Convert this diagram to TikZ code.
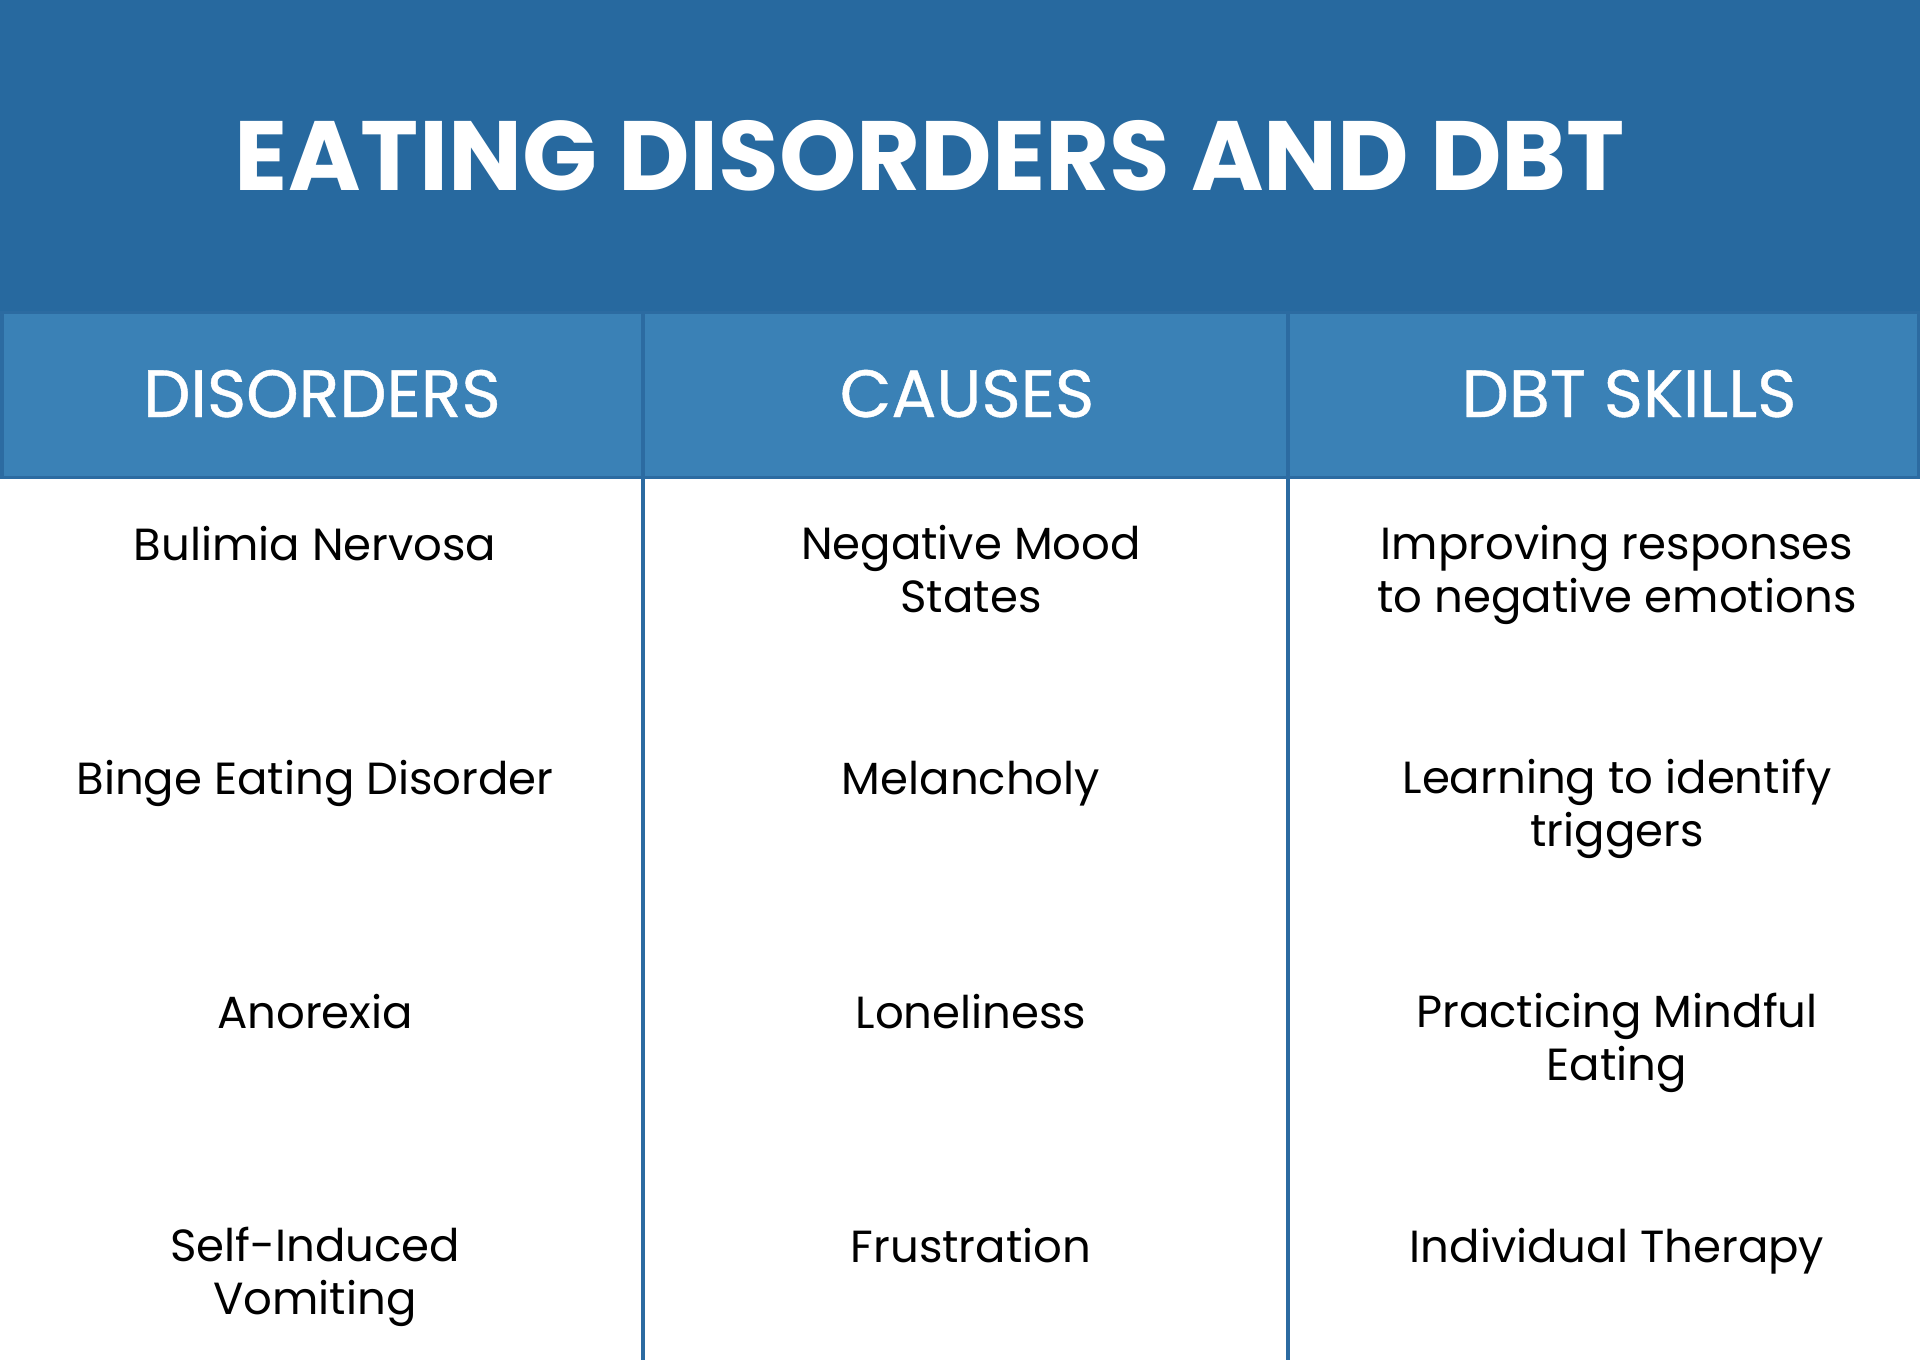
\documentclass[tikz,border=0pt]{standalone}
\usepackage{fontspec}
\setmainfont{Poppins}
\newfontfamily\headfont{Poppins}[FakeBold=0.6]
\usetikzlibrary{positioning}
\definecolor{bannerblue}{HTML}{27699F}
\definecolor{headblue}{HTML}{3A81B6}
\definecolor{lineblue}{HTML}{2C6BA1}

\begin{document}
\begin{tikzpicture}[x=0.01cm, y=-0.01cm,
    head/.style={anchor=base, text=white, font=\headfont\fontsize{19}{21}\selectfont},
    cell/.style={anchor=base, align=center, inner sep=0pt, font=\fontsize{12.8}{14.9}\selectfont}]
  \useasboundingbox (0,0) rectangle (1920,1363);

  % banner and header band
  \fill[bannerblue] (0,0) rectangle (1920,312);
  \fill[headblue] (0,312) rectangle (1920,477);
  \draw[lineblue, line width=0.03cm] (2,312) rectangle (1918,477);
  \draw[lineblue, line width=0.045cm] (643,312) -- (643,1360);
  \draw[lineblue, line width=0.045cm] (1288,312) -- (1288,1360);

  \node[anchor=base, text=white, font=\fontsize{28}{30}\selectfont\bfseries] at (930,190) (title) {EATING DISORDERS AND DBT};

  \node[head] at (322,417) (hdis) {DISORDERS};
  \node[head] at (967,417) (hcau) {CAUSES};
  \node[head] at (1629,417) (hski) {DBT SKILLS};

  % two-line cells sit on the baseline of their last line
  \node[cell] at (315,560) (d1) {Bulimia Nervosa};
  \node[cell] at (315,794) (d2) {Binge Eating Disorder};
  \node[cell] at (315,1028) (d3) {Anorexia};
  \node[cell] at (315,1314) (d4) {Self-Induced\\Vomiting};

  \node[cell] at (971,612) (c1) {Negative Mood\\States};
  \node[cell] at (971,794) (c2) {Melancholy};
  \node[cell] at (971,1028) (c3) {Loneliness};
  \node[cell] at (971,1262) (c4) {Frustration};

  \node[cell] at (1617,612) (s1) {Improving responses\\to negative emotions};
  \node[cell] at (1617,846) (s2) {Learning to identify\\triggers};
  \node[cell] at (1617,1080) (s3) {Practicing Mindful\\Eating};
  \node[cell] at (1617,1262) (s4) {Individual Therapy};

\end{tikzpicture}
\end{document}
